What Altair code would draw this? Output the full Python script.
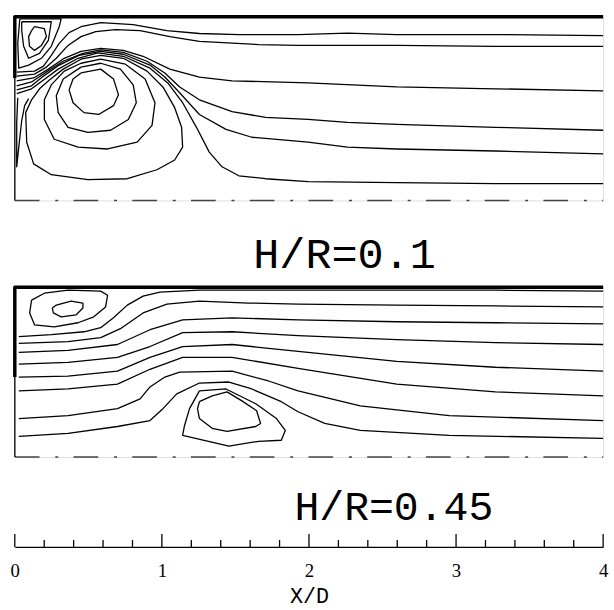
import altair as alt
import pandas as pd

# ---------------- Panel 1 : H/R = 0.1  (x = X/D, r = r/R) ----------------
title1 = "H/R=0.1"
p1_corner_outer = [(0.034, 0.989), (0.315, 0.989), (0.302, 0.946), (0.248, 0.839), (0.181, 0.774),
                   (0.094, 0.737), (0.027, 0.720), (0.020, 0.855), (0.034, 0.989)]
p1_corner_mid = [(0.047, 0.973), (0.248, 0.973), (0.228, 0.871), (0.168, 0.801), (0.094, 0.774),
                 (0.060, 0.839), (0.047, 0.925), (0.047, 0.973)]
p1_corner_in = [(0.134, 0.946), (0.201, 0.935), (0.215, 0.892), (0.181, 0.844), (0.134, 0.817),
                (0.100, 0.839), (0.094, 0.892), (0.114, 0.925), (0.134, 0.946)]
p1_L1 = [(0.013, 0.699), (0.134, 0.704), (0.195, 0.731), (0.248, 0.790), (0.302, 0.855), (0.369, 0.914),
         (0.450, 0.946), (0.584, 0.968), (0.805, 0.957), (1.034, 0.925), (1.255, 0.909), (1.523, 0.903),
         (1.926, 0.903), (2.262, 0.911), (2.597, 0.903), (3.268, 0.903), (4.0, 0.898)]
p1_L2 = [(0.013, 0.677), (0.134, 0.688), (0.215, 0.726), (0.282, 0.774), (0.362, 0.844), (0.450, 0.892),
         (0.550, 0.919), (0.685, 0.930), (0.852, 0.925), (1.054, 0.892), (1.255, 0.866), (1.658, 0.849),
         (1.926, 0.844), (2.597, 0.844), (3.268, 0.839), (4.0, 0.839)]
p1_L3 = [(0.013, 0.651), (0.128, 0.667), (0.228, 0.715), (0.336, 0.774), (0.450, 0.812), (0.584, 0.828),
         (0.738, 0.817), (0.872, 0.785), (1.054, 0.715), (1.255, 0.672), (1.477, 0.651), (1.993, 0.640),
         (2.597, 0.618), (3.268, 0.608), (4.0, 0.597)]
p1_L4 = [(0.013, 0.624), (0.114, 0.645), (0.215, 0.699), (0.329, 0.758), (0.463, 0.801), (0.584, 0.820),
         (0.738, 0.806), (0.899, 0.758), (1.020, 0.694), (1.121, 0.618), (1.255, 0.548), (1.477, 0.484),
         (1.705, 0.452), (1.993, 0.441), (2.262, 0.425), (2.597, 0.414), (3.268, 0.398), (4.0, 0.382)]
p1_L5 = [(0.013, 0.602), (0.114, 0.624), (0.195, 0.677), (0.302, 0.737), (0.436, 0.790), (0.584, 0.812),
         (0.738, 0.796), (0.919, 0.737), (1.020, 0.672), (1.121, 0.586), (1.255, 0.468), (1.436, 0.387),
         (1.611, 0.344), (1.993, 0.317), (2.262, 0.290), (2.597, 0.280), (3.268, 0.269), (4.0, 0.253)]
p1_L6 = [(0.013, 0.581), (0.114, 0.608), (0.195, 0.656), (0.295, 0.715), (0.430, 0.774), (0.564, 0.804),
         (0.738, 0.785), (0.919, 0.720), (1.040, 0.640), (1.141, 0.532), (1.235, 0.398), (1.322, 0.263),
         (1.409, 0.183), (1.523, 0.134), (1.705, 0.118), (1.993, 0.102), (2.597, 0.097), (3.268, 0.091),
         (4.0, 0.091)]
p1_vortex_4 = [(0.114, 0.548), (0.074, 0.478), (0.081, 0.317), (0.128, 0.199), (0.248, 0.140), (0.497, 0.113),
               (0.765, 0.118), (0.966, 0.167), (1.087, 0.220), (1.141, 0.290), (1.134, 0.398), (1.087, 0.505),
               (1.007, 0.618), (0.899, 0.704), (0.738, 0.774), (0.584, 0.790), (0.450, 0.769), (0.329, 0.715),
               (0.235, 0.656), (0.168, 0.608), (0.114, 0.548)]
p1_vortex_3 = [(0.450, 0.747), (0.584, 0.769), (0.752, 0.742), (0.886, 0.661), (0.953, 0.532), (0.933, 0.409),
               (0.832, 0.317), (0.631, 0.280), (0.430, 0.290), (0.268, 0.333), (0.201, 0.441), (0.201, 0.548),
               (0.248, 0.629), (0.336, 0.704), (0.450, 0.747)]
p1_vortex_2 = [(0.450, 0.726), (0.584, 0.747), (0.718, 0.715), (0.805, 0.629), (0.826, 0.532), (0.772, 0.441),
               (0.651, 0.382), (0.497, 0.371), (0.362, 0.398), (0.295, 0.478), (0.282, 0.570), (0.329, 0.661),
               (0.450, 0.726)]
p1_vortex_1 = [(0.450, 0.694), (0.584, 0.715), (0.671, 0.661), (0.705, 0.575), (0.671, 0.516), (0.570, 0.468),
               (0.470, 0.478), (0.396, 0.532), (0.369, 0.602), (0.396, 0.661), (0.450, 0.694)]
p1_spike = [(0.020, 0.559), (0.013, 0.425), (0.013, 0.183), (0.027, 0.290), (0.047, 0.435), (0.067, 0.516),
            (0.094, 0.554)]
p1_wall_thick = [[(0.0, 0.667), (0.0, 1.0), (4.0, 1.0)]]
p1_wall_thin = [(0.0, 0.667), (0.0, 0.0)]

# ---------------- Panel 2 : H/R = 0.45 ----------------
title2 = "H/R=0.45"
p2_corner_outer = [(0.114, 0.924), (0.201, 0.965), (0.362, 0.983), (0.584, 0.977), (0.631, 0.953),
                   (0.617, 0.884), (0.537, 0.826), (0.430, 0.791), (0.268, 0.767), (0.134, 0.779),
                   (0.101, 0.849), (0.114, 0.924)]
p2_corner_in = [(0.282, 0.895), (0.383, 0.919), (0.463, 0.907), (0.463, 0.878), (0.416, 0.837),
                (0.315, 0.826), (0.262, 0.849), (0.255, 0.878), (0.282, 0.895)]
p2_L1 = [(0.027, 0.709), (0.248, 0.721), (0.470, 0.738), (0.584, 0.762), (0.671, 0.820), (0.765, 0.895),
         (0.872, 0.948), (0.987, 0.971), (1.255, 0.983), (1.926, 0.983), (2.597, 0.983), (3.268, 0.983),
         (4.0, 0.977)]
p2_L2 = [(0.027, 0.669), (0.362, 0.680), (0.584, 0.703), (0.718, 0.756), (0.872, 0.849), (1.034, 0.901),
         (1.255, 0.919), (1.591, 0.907), (1.926, 0.901), (2.597, 0.895), (3.268, 0.890), (4.0, 0.884)]
p2_L3 = [(0.027, 0.616), (0.362, 0.628), (0.698, 0.663), (0.919, 0.750), (1.141, 0.808), (1.477, 0.820),
         (1.926, 0.808), (2.597, 0.797), (3.268, 0.791), (4.0, 0.785)]
p2_L4 = [(0.027, 0.547), (0.362, 0.558), (0.698, 0.587), (0.919, 0.651), (1.141, 0.733), (1.477, 0.738),
         (1.926, 0.715), (2.597, 0.692), (3.268, 0.674), (4.0, 0.663)]
p2_L5 = [(0.027, 0.471), (0.362, 0.477), (0.698, 0.506), (0.919, 0.587), (1.141, 0.651), (1.477, 0.663),
         (1.926, 0.622), (2.597, 0.564), (3.268, 0.529), (4.0, 0.506)]
p2_L6 = [(0.027, 0.390), (0.362, 0.401), (0.698, 0.430), (0.919, 0.517), (1.141, 0.587), (1.477, 0.587),
         (1.926, 0.523), (2.597, 0.430), (3.268, 0.384), (4.0, 0.360)]
p2_L7 = [(0.027, 0.227), (0.362, 0.244), (0.698, 0.285), (0.852, 0.343), (0.919, 0.413), (1.020, 0.471),
         (1.121, 0.500), (1.477, 0.506), (1.725, 0.448), (1.926, 0.390), (2.349, 0.302), (2.953, 0.244),
         (4.0, 0.215)]
p2_L8 = [(0.027, 0.122), (0.362, 0.140), (0.698, 0.180), (0.919, 0.215), (1.007, 0.285), (1.101, 0.372),
         (1.255, 0.436), (1.456, 0.442), (1.611, 0.401), (1.812, 0.326), (1.926, 0.267), (2.107, 0.198),
         (2.349, 0.157), (2.953, 0.128), (4.0, 0.110)]
p2_vortex_outer = [(1.255, 0.390), (1.436, 0.401), (1.638, 0.314), (1.779, 0.227), (1.839, 0.157),
                   (1.812, 0.099), (1.658, 0.093), (1.456, 0.064), (1.141, 0.128), (1.154, 0.186),
                   (1.188, 0.285), (1.255, 0.390)]
p2_vortex_in = [(1.255, 0.326), (1.342, 0.360), (1.443, 0.384), (1.544, 0.331), (1.644, 0.273),
                (1.671, 0.198), (1.638, 0.180), (1.443, 0.151), (1.342, 0.169), (1.255, 0.227),
                (1.242, 0.285), (1.255, 0.326)]
p2_wall_thick = [[(0.0, 0.471), (0.0, 1.0), (4.0, 1.0)]]
p2_wall_thin = [(0.0, 0.471), (0.0, 0.0)]

centre_line = [(0.0, 0.0), (4.0, 0.0)]

# ---------------- Axis ----------------
axis_title = "X/D"
major_ticks = [0, 1, 2, 3, 4]
minor_ticks = [0.2, 0.4, 0.6, 0.8, 1.2, 1.4, 1.6, 1.8, 2.2, 2.4, 2.6, 2.8,
               3.2, 3.4, 3.6, 3.8]


def frame(lines):
    rows = []
    for k, pts in enumerate(lines):
        for i, (x, r) in enumerate(pts):
            rows.append({"line": k, "i": i, "x": x, "r": r})
    return pd.DataFrame(rows)


xs = alt.Scale(domain=[0, 4], nice=False, zero=False)
ys = alt.Scale(domain=[0, 1], nice=False, zero=False)

x_axis = alt.Axis(orient="bottom", offset=91, values=major_ticks, format="d", ticks=False, grid=False,
                  domainColor="black", domainWidth=1.5, labelFont="Liberation Sans Narrow",
                  labelFontSize=19, labelColor="black", labelPadding=15, labelFlush=False,
                  titleFont="Liberation Mono", titleFontSize=22, titleFontWeight="normal",
                  titleColor="black", titlePadding=5)


def lines_layer(lines, xenc, width=1.3, color="black", dash=None):
    mk = dict(color=color, strokeWidth=width, strokeJoin="round")
    if dash is not None:
        mk["strokeDash"] = dash
    return alt.Chart(frame(lines)).mark_line(**mk).encode(
        x=xenc, y=alt.Y("r:Q", scale=ys, axis=None), detail="line:N", order="i:Q")


def panel(stream, thick, thin, xenc, label, lx, ly, fs):
    txt = alt.Chart(pd.DataFrame({"t": [label]})).mark_text(
        font="Liberation Mono", fontSize=fs, align="center", baseline="alphabetic", color="black"
    ).encode(text="t:N", x=alt.value(lx), y=alt.value(ly))
    return [
        lines_layer([centre_line], xenc, width=1.5, color="#444444", dash=[25, 16, 3, 15.5]),
        lines_layer(stream, xenc),
        lines_layer([thin], xenc, width=1.3),
        lines_layer(thick, xenc, width=3.5),
        txt,
    ]


x1 = alt.X("x:Q", scale=xs, axis=None)
x2 = alt.X("x:Q", scale=xs, axis=x_axis, title=axis_title)

stream1 = [p1_corner_outer, p1_corner_mid, p1_corner_in, p1_L1, p1_L2, p1_L3, p1_L4, p1_L5, p1_L6,
           p1_vortex_4, p1_vortex_3, p1_vortex_2, p1_vortex_1, p1_spike]
stream2 = [p2_corner_outer, p2_corner_in, p2_L1, p2_L2, p2_L3, p2_L4, p2_L5, p2_L6, p2_L7, p2_L8,
           p2_vortex_outer, p2_vortex_in]

panel1 = alt.layer(*panel(stream1, p1_wall_thick, p1_wall_thin, x1, title1, 334, 254, 44)).properties(
    width=596, height=186)

major_rule = alt.Chart(pd.DataFrame({"x": major_ticks})).mark_rule(color="black", strokeWidth=1.3).encode(
    x=x2, y=alt.value(250), y2=alt.value(263))
minor_rule = alt.Chart(pd.DataFrame({"x": minor_ticks})).mark_rule(color="black", strokeWidth=1.3).encode(
    x=x2, y=alt.value(256), y2=alt.value(263))

panel2 = alt.layer(*panel(stream2, p2_wall_thick, p2_wall_thin, x2, title2, 384, 236, 42),
                   major_rule, minor_rule).properties(width=596, height=172)

chart = alt.vconcat(panel1, panel2, spacing=88, bounds="flush").properties(
    padding={"left": 9, "top": 10, "right": 5, "bottom": 5}
).configure_view(stroke=None).configure(background="white")

chart.save("out.html", embed_options={"renderer": "svg", "actions": False})
